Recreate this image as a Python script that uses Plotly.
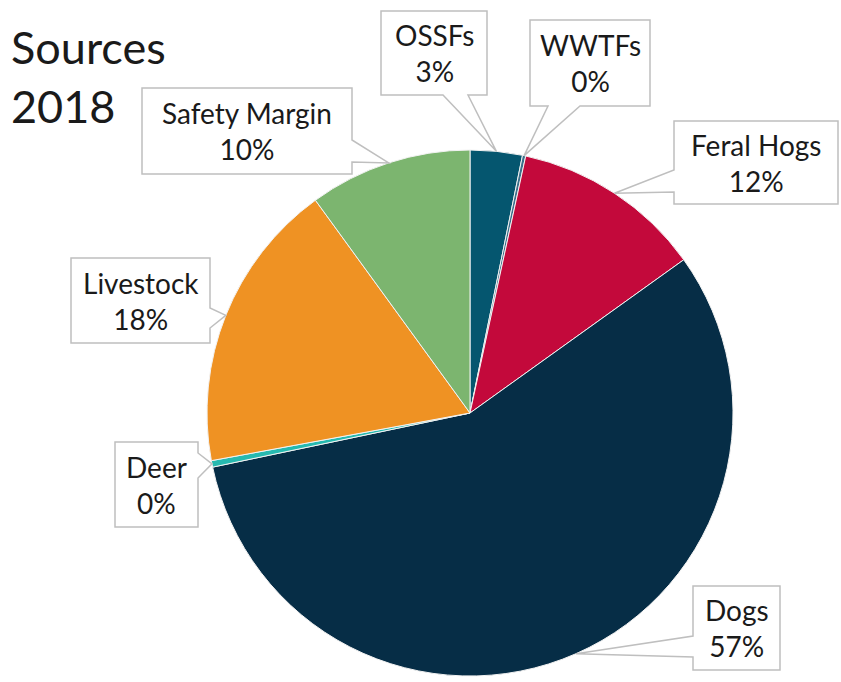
import math
import plotly.graph_objects as go

# Source shares (percent), clockwise from 12 o'clock
labels = ["OSSFs", "WWTFs", "Feral Hogs", "Dogs", "Deer", "Livestock", "Safety Margin"]
values = [3.2, 0.2, 11.7, 56.6, 0.4, 17.9, 10.0]
colors = ["#05566f", "#3a6f8a", "#c3093b", "#062d46", "#26b9b0", "#ef9223", "#7cb56f"]

title_lines = ["Sources", "2018"]

W, H = 841, 682
CX, CY, R = 470, 413, 263  # pie centre and radius in pixels

# Callout boxes: (x0, y0, x1, y1), side that carries the pointer, pointer base span
callouts = {
    "OSSFs":         dict(box=(381, 11, 487, 95),   side="bottom", base=(443, 468)),
    "WWTFs":         dict(box=(530, 20, 650, 106),  side="bottom", base=(548, 580)),
    "Feral Hogs":    dict(box=(674, 121, 838, 204), side="left",   base=(170, 192)),
    "Dogs":          dict(box=(693, 586, 780, 670), side="left",   base=(636, 657)),
    "Deer":          dict(box=(115, 442, 198, 527), side="right",  base=(453, 478)),
    "Livestock":     dict(box=(71, 258, 210, 343),  side="right",  base=(308, 328)),
    "Safety Margin": dict(box=(142, 88, 352, 174),  side="right",  base=(140, 162)),
}

FONT = "Lato, 'Open Sans', sans-serif"
TEXT_COLOR = "#1a1a1a"
BORDER = "#bfbfbf"

fig = go.Figure()

fig.add_trace(go.Pie(
    labels=labels,
    values=values,
    sort=False,
    direction="clockwise",
    rotation=0,
    marker=dict(colors=colors, line=dict(color="#f2f2f2", width=1)),
    textinfo="none",
    hoverinfo="label+percent",
    showlegend=False,
    domain=dict(x=[(CX - R) / W, (CX + R) / W], y=[(H - CY - R) / H, (H - CY + R) / H]),
))


def callout_path(box, side, base, tip):
    x0, y0, x1, y1 = box
    tx, ty = tip
    a, b = base
    pts = [(x0, y0)]
    # top edge (left -> right)
    pts.append((x1, y0))
    # right edge (top -> bottom)
    if side == "right":
        pts += [(x1, a), (tx, ty), (x1, b)]
    pts.append((x1, y1))
    # bottom edge (right -> left)
    if side == "bottom":
        pts += [(b, y1), (tx, ty), (a, y1)]
    pts.append((x0, y1))
    # left edge (bottom -> top)
    if side == "left":
        pts += [(x0, b), (tx, ty), (x0, a)]
    return "M " + " L ".join(f"{px:.1f},{py:.1f}" for px, py in pts) + " Z"


total = sum(values)
shapes = []
annotations = []
cum = 0.0
for lab, val in zip(labels, values):
    mid = (cum + val / 2) / total * 2 * math.pi
    cum += val
    tip = (CX + R * math.sin(mid), CY - R * math.cos(mid))
    c = callouts[lab]
    shapes.append(dict(
        type="path", xref="x", yref="y", layer="above",
        path=callout_path(c["box"], c["side"], c["base"], tip),
        fillcolor="white", line=dict(color=BORDER, width=1.5),
    ))
    x0, y0, x1, y1 = c["box"]
    annotations.append(dict(
        x=(x0 + x1) / 2, y=(y0 + y1) / 2, xref="x", yref="y",
        text=f"{lab}<br>{val / total:.0%}", showarrow=False,
        font=dict(family=FONT, size=28, color=TEXT_COLOR),
        align="center", xanchor="center", yanchor="middle",
    ))

annotations.append(dict(
    x=9, y=18, xref="x", yref="y", xanchor="left", yanchor="top",
    text="<br>".join(title_lines), showarrow=False, align="left",
    font=dict(family=FONT, size=45, color=TEXT_COLOR),
))

fig.update_layout(
    width=W, height=H,
    margin=dict(l=0, r=0, t=0, b=0),
    paper_bgcolor="white", plot_bgcolor="white",
    xaxis=dict(range=[0, W], visible=False, domain=[0, 1], fixedrange=True),
    yaxis=dict(range=[H, 0], visible=False, domain=[0, 1], fixedrange=True),
    shapes=shapes,
    annotations=annotations,
)

fig.write_html("out.html")
